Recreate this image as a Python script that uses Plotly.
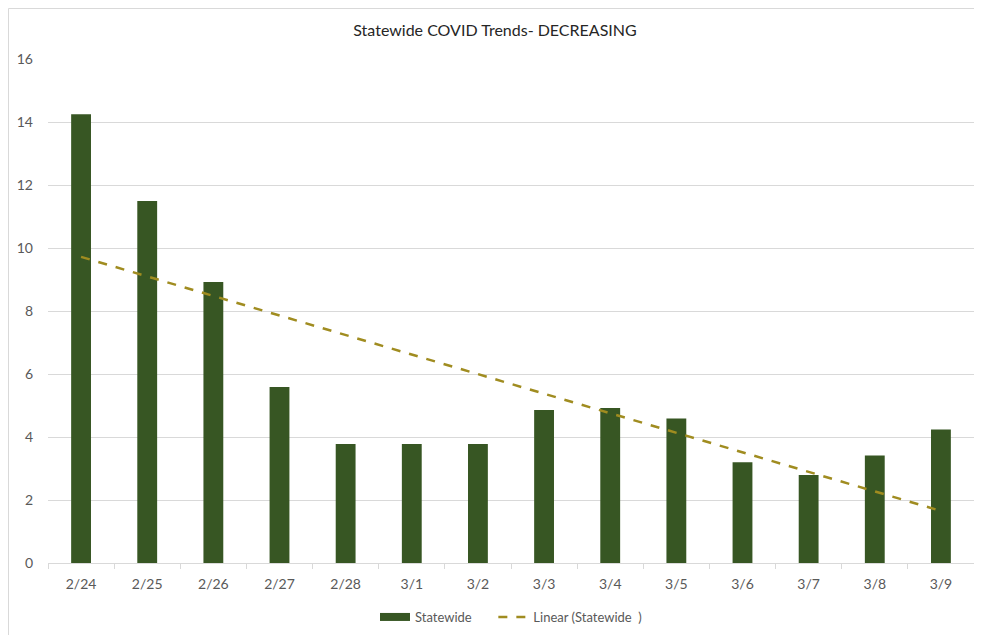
import numpy as np
import plotly.graph_objects as go

dates = ["2/24", "2/25", "2/26", "2/27", "2/28", "3/1", "3/2", "3/3", "3/4", "3/5", "3/6", "3/7", "3/8", "3/9"]
statewide = [14.25, 11.49, 8.92, 5.59, 3.78, 3.78, 3.78, 4.86, 4.92, 4.59, 3.20, 2.79, 3.41, 4.24]
y_ticks = [0, 2, 4, 6, 8, 10, 12, 14, 16]

# Linear trendline (least squares on category index, as in Excel)
xi = np.arange(1, len(statewide) + 1)
slope, intercept = np.polyfit(xi, statewide, 1)
trend = list(slope * xi + intercept)

FONT = "Lato, Open Sans, sans-serif"
GRAY = "#595959"
W, H = 974, 627
L, R, T, B = 40, 8, 51, 72
plot_w = W - L - R
plot_h = H - T - B

fig = go.Figure()
fig.add_trace(go.Bar(
    x=dates, y=statewide, name="Statewide", showlegend=False,
    marker=dict(color="#375623", line=dict(width=0)),
    width=0.3,
))
# legend entry for bars drawn as a wide rectangle (Excel style)
fig.add_trace(go.Scatter(
    x=[None], y=[None], name="Statewide" + "&nbsp;" * 5, mode="lines",
    line=dict(color="#375623", width=8),
))
fig.add_trace(go.Scatter(
    x=dates, y=trend, name="Linear (Statewide&nbsp;&nbsp;)", mode="lines",
    line=dict(color="#A08C20", width=2.5, dash="dash"),
))

fig.update_layout(
    width=W, height=H,
    margin=dict(l=L, r=R, t=T, b=B, autoexpand=False),
    paper_bgcolor="white", plot_bgcolor="white",
    font=dict(family=FONT, size=13, color=GRAY),
    title=dict(text="Statewide COVID Trends- DECREASING", x=0.5, xanchor="center",
               y=1 - 22 / H, yanchor="middle",
               font=dict(family=FONT, size=16, color="#262626")),
    showlegend=True,
    legend=dict(orientation="h", x=0.5, xanchor="center", y=-54 / plot_h, yanchor="middle",
                font=dict(family=FONT, size=13, color=GRAY),
                traceorder="normal"),
    shapes=[dict(type="rect", xref="paper", yref="paper",
                 x0=(0.5 - L) / plot_w, x1=1.05, y0=-0.3, y1=(plot_h + T - 0.5) / plot_h,
                 line=dict(color="#d9d9d9", width=1), fillcolor="rgba(0,0,0,0)", layer="below")],
)
fig.update_xaxes(
    type="category", range=[-0.5, len(dates) - 0.5],
    showgrid=False, showline=True, linecolor="#d9d9d9", linewidth=1,
    ticks="outside", tickson="boundaries", ticklen=5, tickcolor="#d9d9d9",
    ticklabelstandoff=8,
    tickfont=dict(family=FONT, size=14, color=GRAY),
)
fig.update_yaxes(
    range=[0, 16], tickvals=y_ticks, showgrid=True, gridcolor="#d9d9d9", gridwidth=1,
    zeroline=False, showline=False, ticks="", ticklabelstandoff=14,
    tickfont=dict(family=FONT, size=14, color=GRAY),
)

fig.write_html("out.html")
